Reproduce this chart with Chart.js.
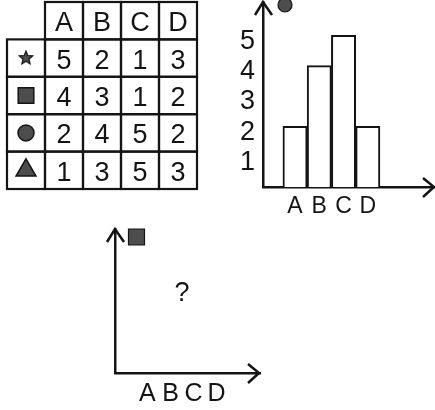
<!DOCTYPE html>
<html>
<head>
<meta charset="utf-8">
<script src="https://cdn.jsdelivr.net/npm/chart.js@4.4.1/dist/chart.umd.min.js"></script>
<style>
body{margin:0;background:#fff;width:435px;height:410px;overflow:hidden;position:relative}
.box{position:absolute}
</style>
</head>
<body>
<div class="box" style="left:0;top:0;width:205px;height:195px"><canvas id="table"></canvas></div>
<div class="box" style="left:240px;top:0;width:195px;height:220px"><canvas id="bars"></canvas></div>
<div class="box" style="left:100px;top:220px;width:170px;height:190px"><canvas id="empty"></canvas></div>
<script>
// values
const columns = ['A', 'B', 'C', 'D'];
const symbols = ['star', 'rect', 'circle', 'triangle'];
const starRow = [5, 2, 1, 3];
const squareRow = [4, 3, 1, 2];
const circleRow = [2, 4, 5, 2];
const triangleRow = [1, 3, 5, 3];
const rows = [starRow, squareRow, circleRow, triangleRow];
const yTicks = [1, 2, 3, 4, 5];
const unknownMark = '?';

const ink = '#141414';
const fillGray = '#4d4d4d';
const family = '"Liberation Sans", Arial, sans-serif';
Chart.defaults.font.family = family;
Chart.defaults.color = ink;

function starCanvas(r) {
	let c = document.createElement('canvas');
	c.width = c.height = 2 * r + 2;
	let g = c.getContext('2d');
	g.beginPath();
	for (let i = 0; i < 10; i++) {
		let a = -Math.PI / 2 + i * Math.PI / 5,
			rr = i % 2 ? r * 0.45 : r;
		g.lineTo(r + 1 + rr * Math.cos(a), r + 1 + rr * Math.sin(a));
	}
	g.closePath();
	g.fillStyle = fillGray;
	g.fill();
	g.strokeStyle = ink;
	g.lineWidth = 1.2;
	g.stroke();
	return c;
}

// no extra room for labels: the axes sit where we put them
function noPad(s) {
	s.paddingTop = 0;
	s.paddingBottom = 0;
	s.paddingLeft = 0;
	s.paddingRight = 0;
}

// grid + texts of the table, positioned by the scales
const tableGrid = {
	id: 'tableGrid',
	beforeDatasetsDraw(chart) {
		const {ctx, scales: {x, y}} = chart;
		ctx.save();
		ctx.strokeStyle = ink;
		ctx.lineWidth = 2.2;
		for (let r = 0; r < 5; r++) {
			for (let c = 0; c < 5; c++) {
				if (!r && !c) continue;
				let x0 = x.getPixelForValue(c), x1 = x.getPixelForValue(c + 1),
					y0 = y.getPixelForValue(r), y1 = y.getPixelForValue(r + 1);
				ctx.strokeRect(x0, y0, x1 - x0, y1 - y0);
			}
		}
		ctx.fillStyle = ink;
		ctx.font = '27px ' + family;
		ctx.textAlign = 'center';
		ctx.textBaseline = 'middle';
		columns.forEach((t, c) => ctx.fillText(t, x.getPixelForValue(c + 1.5), y.getPixelForValue(0.5) + 3));
		rows.forEach((row, r) => row.forEach((v, c) =>
			ctx.fillText(String(v), x.getPixelForValue(c + 1.5), y.getPixelForValue(r + 1.5) + 3)));
		ctx.restore();
	}
};

// arrow heads, the small icon next to the y axis and the "?" mark
const arrows = {
	id: 'arrows',
	afterDraw(chart, args, o) {
		const {ctx, chartArea: a} = chart;
		ctx.save();
		ctx.strokeStyle = ink;
		ctx.lineWidth = 2.5;
		ctx.beginPath();
		ctx.moveTo(a.left - 8, a.top + 13);
		ctx.lineTo(a.left, a.top);
		ctx.lineTo(a.left + 9, a.top + 13);
		ctx.stroke();
		ctx.beginPath();
		ctx.moveTo(a.right - 12, a.bottom - 9);
		ctx.lineTo(a.right - 1, a.bottom);
		ctx.lineTo(a.right - 12, a.bottom + 10);
		ctx.stroke();

		ctx.fillStyle = fillGray;
		ctx.lineWidth = 1.2;
		let cx = a.left + o.dx, cy = a.top + o.dy;
		ctx.beginPath();
		if (o.icon === 'circle') ctx.arc(cx, cy, 7, 0, Math.PI * 2);
		else ctx.rect(cx - 8, cy - 8, 16, 16);
		ctx.fill();
		ctx.stroke();

		if (o.mark) {
			const {x, y} = chart.scales;
			ctx.fillStyle = ink;
			ctx.font = '27px ' + family;
			ctx.textAlign = 'center';
			ctx.textBaseline = 'middle';
			ctx.fillText(o.mark, x.getPixelForValue(2.5), y.getPixelForValue(0.555));
		}
		ctx.restore();
	}
};

new Chart(document.getElementById('table'), {
	type: 'scatter',
	data: {
		datasets: [{
			data: symbols.map((s, i) => ({x: 0.5, y: i + 1.5})),
			pointStyle: [starCanvas(7), 'rect', 'circle', 'triangle'],
			pointRadius: [7, 11, 8, 11.5],
			backgroundColor: fillGray,
			borderColor: ink,
			borderWidth: 1.5
		}]
	},
	options: {
		responsive: true,
		maintainAspectRatio: false,
		animation: false,
		layout: {autoPadding: false, padding: {left: 7, top: 2, right: 8, bottom: 6}},
		plugins: {legend: {display: false}, tooltip: {enabled: false}},
		scales: {
			x: {type: 'linear', min: 0, max: 5, display: false},
			y: {type: 'linear', min: 0, max: 5, reverse: true, display: false}
		}
	},
	plugins: [tableGrid]
});

new Chart(document.getElementById('bars'), {
	type: 'bar',
	data: {
		datasets: [{
			data: columns.map((c, i) => ({x: i + 1, y: circleRow[i]})),
			backgroundColor: '#fff',
			borderColor: ink,
			borderWidth: 2,
			borderSkipped: 'bottom',
			categoryPercentage: 1,
			barPercentage: 1
		}]
	},
	options: {
		responsive: true,
		maintainAspectRatio: false,
		animation: false,
		layout: {padding: {top: 2, right: 0, left: 0, bottom: 0}},
		plugins: {legend: {display: false}, tooltip: {enabled: false}, arrows: {icon: 'circle', dx: 22, dy: 3}},
		scales: {
			x: {
				type: 'linear', min: -0.32, max: 6.77, offset: false,
				grid: {display: false, drawTicks: false, offset: false},
				border: {color: ink, width: 2.5},
				afterFit: s => { s.height = 33; noPad(s); },
				afterBuildTicks: s => { s.ticks = columns.map((c, i) => ({value: i + 1})); },
				ticks: {callback: v => columns[v - 1], color: ink, font: {size: 23}, padding: 6, maxRotation: 0, autoSkip: false}
			},
			y: {
				min: 0, max: 6.1,
				grid: {display: false, drawTicks: false},
				border: {color: ink, width: 2.5},
				afterFit: s => { s.width = 23; noPad(s); },
				afterBuildTicks: s => { s.ticks = yTicks.map(v => ({value: v})); },
				ticks: {color: ink, font: {size: 27}, padding: 8, labelOffset: 6}
			}
		}
	},
	plugins: [arrows]
});

new Chart(document.getElementById('empty'), {
	type: 'bar',
	data: {datasets: [{data: []}]},
	options: {
		responsive: true,
		maintainAspectRatio: false,
		animation: false,
		layout: {padding: {top: 9, right: 10, left: 0, bottom: 0}},
		plugins: {legend: {display: false}, tooltip: {enabled: false}, arrows: {icon: 'rect', dx: 21.5, dy: 8, mark: unknownMark}},
		scales: {
			x: {
				type: 'linear', min: -0.41, max: 5.89, offset: false,
				grid: {display: false, drawTicks: false, offset: false},
				border: {color: ink, width: 2.5},
				afterFit: s => { s.height = 37; noPad(s); },
				afterBuildTicks: s => { s.ticks = columns.map((c, i) => ({value: i + 1})); },
				ticks: {callback: v => columns[v - 1], color: ink, font: {size: 25}, padding: 6, maxRotation: 0, autoSkip: false}
			},
			y: {
				min: 0, max: 1,
				grid: {display: false, drawTicks: false},
				border: {color: ink, width: 2.5},
				afterFit: s => { s.width = 15; noPad(s); },
				ticks: {display: false}
			}
		}
	},
	plugins: [arrows]
});
</script>
</body>
</html>
